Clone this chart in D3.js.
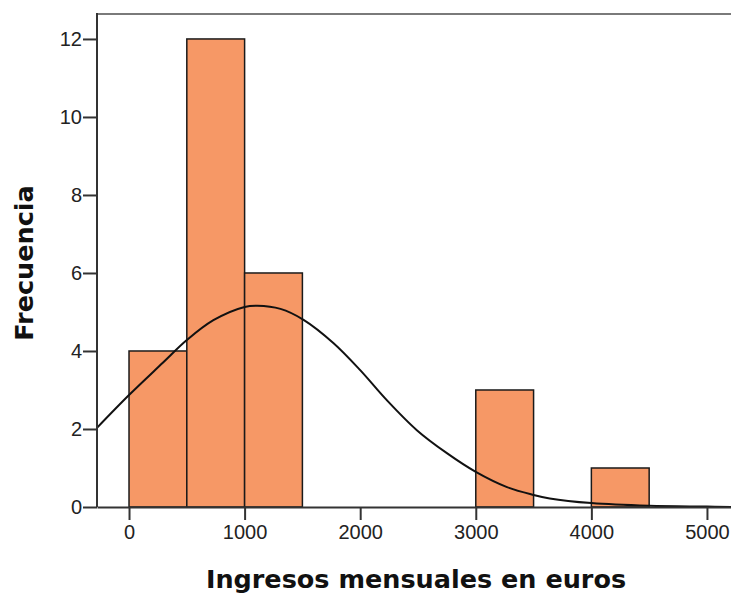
<!DOCTYPE html>
<html>
<head>
<meta charset="utf-8">
<script src="https://cdn.jsdelivr.net/npm/d3@7"></script>
<style>
  body { margin: 0; background: #fff; }
  svg { display: block; }
</style>
</head>
<body>
<svg width="731" height="599"></svg>
<script>
// histogram bins (lower edge, upper edge) and counts
const binStart = [0, 500, 1000, 3000, 4000];
const binEnd   = [500, 1000, 1500, 3500, 4500];
const counts   = [4, 12, 6, 3, 1];

// normal curve, points
const curveX = [-277, 0, 290, 500, 730, 1000, 1110, 1310, 1510, 1770, 2000, 2230, 2490, 2750, 3000, 3270, 3500, 3640, 4000, 4500, 5000, 5210];
const curveY = [2.03, 2.87, 3.69, 4.28, 4.79, 5.13, 5.16, 5.08, 4.80, 4.20, 3.51, 2.74, 1.97, 1.38, 0.90, 0.51, 0.31, 0.22, 0.10, 0.03, 0.01, 0.0];

const xTicks = [0, 1000, 2000, 3000, 4000, 5000];
const yTicks = [0, 2, 4, 6, 8, 10, 12];

const svg = d3.select('svg');
const plotLeft = 97, plotRight = 731, plotTop = 14, plotBottom = 507;

let x = d3.scaleLinear().domain([-277, 5208]).range([plotLeft, plotRight]);
let y = d3.scaleLinear().domain([0, 12.64]).range([plotBottom, plotTop]);

// bars
svg.selectAll('rect.bar')
  .data(counts)
  .join('rect')
  .attr('class', 'bar')
  .attr('x', (d, i) => x(binStart[i]))
  .attr('width', (d, i) => x(binEnd[i]) - x(binStart[i]))
  .attr('y', d => y(d))
  .attr('height', d => y(0) - y(d))
  .attr('fill', '#f69866')
  .attr('stroke', '#1a1a1a')
  .attr('stroke-width', 1.5);

// normal curve
let line = d3.line()
  .x((d, i) => x(curveX[i]))
  .y(d => y(d))
  .curve(d3.curveCatmullRom.alpha(0.5));

svg.append('path')
  .attr('d', line(curveY))
  .attr('fill', 'none')
  .attr('stroke', '#111')
  .attr('stroke-width', 2);

// top frame line
svg.append('line')
  .attr('x1', plotLeft).attr('x2', plotRight)
  .attr('y1', plotTop).attr('y2', plotTop)
  .attr('stroke', '#7a7a7a')
  .attr('stroke-width', 2);

// axes
let xAxis = d3.axisBottom(x).tickValues(xTicks).tickFormat(d3.format('d'))
  .tickSize(13).tickPadding(5).tickSizeOuter(0);
let yAxis = d3.axisLeft(y).tickValues(yTicks).tickFormat(d3.format('d'))
  .tickSize(14).tickPadding(1).tickSizeOuter(0);

let gx = svg.append('g').attr('transform', `translate(0,${plotBottom})`).call(xAxis);
let gy = svg.append('g').attr('transform', `translate(${plotLeft},0)`).call(yAxis);

gy.select('.domain').attr('d', `M0,${plotBottom}V${plotTop - 1}`);

[gx, gy].forEach(g => {
  g.select('.domain').attr('stroke', '#333').attr('stroke-width', 2);
  g.selectAll('.tick line').attr('stroke', '#333').attr('stroke-width', 2);
  g.selectAll('.tick text')
    .attr('font-family', 'Liberation Sans, Arial, sans-serif')
    .attr('font-size', 20)
    .attr('fill', '#222');
});

// axis titles
svg.append('text')
  .attr('x', 416).attr('y', 588)
  .attr('text-anchor', 'middle')
  .attr('font-family', 'DejaVu Sans, sans-serif')
  .attr('font-weight', 'bold')
  .attr('font-size', 25.5)
  .attr('fill', '#111')
  .text('Ingresos mensuales en euros');

svg.append('text')
  .attr('transform', 'translate(33,263) rotate(-90)')
  .attr('text-anchor', 'middle')
  .attr('font-family', 'DejaVu Sans, sans-serif')
  .attr('font-weight', 'bold')
  .attr('font-size', 25.5)
  .attr('fill', '#111')
  .text('Frecuencia');
</script>
</body>
</html>
